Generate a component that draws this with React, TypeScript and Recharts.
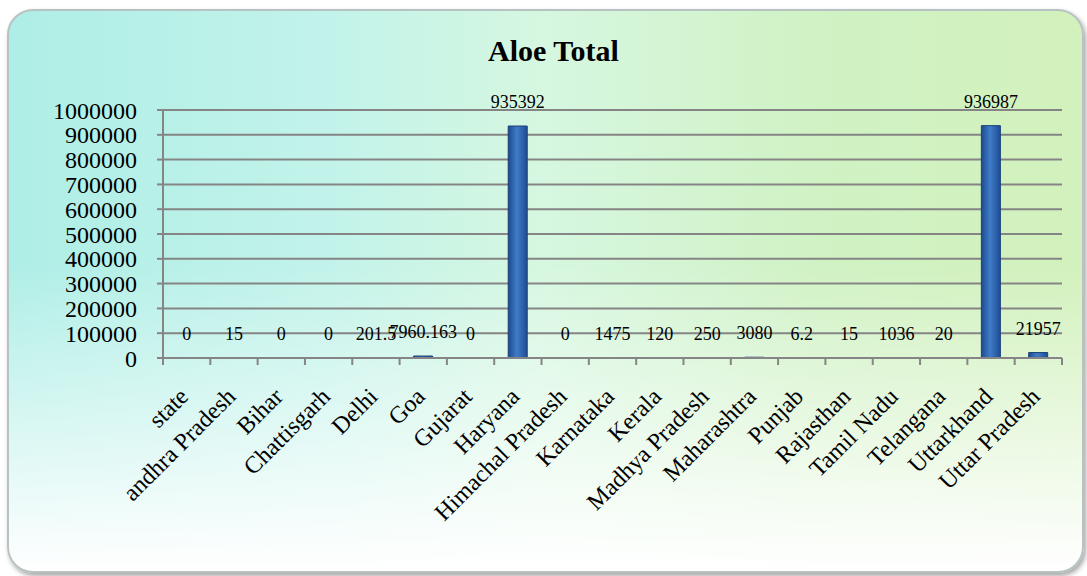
import React from 'react';
import { ComposedChart, Bar, Line, XAxis, YAxis, CartesianGrid, LabelList } from 'recharts';

const states = [
  'state', 'andhra Pradesh', 'Bihar', 'Chattisgarh', 'Delhi', 'Goa', 'Gujarat', 'Haryana',
  'Himachal Pradesh', 'Karnataka', 'Kerala', 'Madhya Pradesh', 'Maharashtra', 'Punjab',
  'Rajasthan', 'Tamil Nadu', 'Telangana', 'Uttarkhand', 'Uttar Pradesh',
];
const totals = [0, 15, 0, 0, 201.5, 7960.163, 0, 935392, 0, 1475, 120, 250, 3080, 6.2, 15, 1036, 20, 936987, 21957];
const yTicks = [0, 100000, 200000, 300000, 400000, 500000, 600000, 700000, 800000, 900000, 1000000];

const data = states.map((name, i) => ({ name, total: totals[i] }));

const FONT = '"Liberation Serif", "Times New Roman", serif';
const GRID = '#858585';

// rotated category label + tick marks on the category boundaries (like Excel)
const StateTick = (props: any) => {
  const { x, y, payload, width, visibleTicksCount, index } = props;
  const half = width / visibleTicksCount / 2;
  const axisY = y - 8;
  return (
    <g>
      {index === 0 && <line x1={x - half} y1={axisY} x2={x - half} y2={axisY + 7} stroke={GRID} strokeWidth={2} />}
      <line x1={x + half} y1={axisY} x2={x + half} y2={axisY + 7} stroke={GRID} strokeWidth={2} />
      <text
        transform={`translate(${x + 3},${axisY + 40}) rotate(-45)`}
        textAnchor="end"
        fontFamily={FONT}
        fontSize={24}
        fill="#000"
      >
        {payload.value}
      </text>
    </g>
  );
};

// value label above every bar, zeros included (bars of height 0 get no label from Bar)
const ValueLabel = (props: any) => {
  const { x, y, value } = props;
  return (
    <text x={x} y={y - 18} textAnchor="middle" fontFamily={FONT} fontSize={18} fill="#000">
      {String(value)}
    </text>
  );
};

const App: React.FC = () => {
  return (
    <div style={{ position: 'absolute', left: 0, top: 0, width: 1087, height: 576, background: '#fff', overflow: 'hidden' }}>
      <div
        style={{
          position: 'absolute', left: 7, top: 9, width: 1073, height: 560, borderRadius: 26,
          border: '2px solid #b7c2c2', boxShadow: '2px 3px 5px rgba(0,0,0,0.35)',
          background:
            'linear-gradient(to bottom, rgba(255,255,255,0) 45%, rgba(255,255,255,0.85) 92%, #fff 100%),' +
            'linear-gradient(to right, #aeeee6 0%, #c2f3ea 30%, #d6f7e0 50%, #d0f2c4 75%, #d2f1bc 100%)',
        }}
      />
      <div
        style={{
          position: 'absolute', left: 0, top: 34, width: 1107, textAlign: 'center',
          fontFamily: FONT, fontWeight: 'bold', fontSize: 30, color: '#000',
        }}
      >
        Aloe Total
      </div>
      <div style={{ position: 'absolute', left: 0, top: 0 }}>
        <ComposedChart width={1087} height={576} data={data} margin={{ top: 110, right: 25, bottom: 0, left: 0 }} barSize={19}>
          <defs>
            <linearGradient id="barFill" x1="0" y1="0" x2="1" y2="0">
              <stop offset="0%" stopColor="#1d4a8e" />
              <stop offset="45%" stopColor="#3f7cc8" />
              <stop offset="100%" stopColor="#1f4c92" />
            </linearGradient>
          </defs>
          <CartesianGrid vertical={false} stroke={GRID} strokeWidth={2} />
          <XAxis
            dataKey="name"
            interval={0}
            height={218}
            axisLine={{ stroke: GRID, strokeWidth: 2 }}
            tickLine={false}
            tickSize={6}
            tickMargin={2}
            tick={<StateTick />}
          />
          <YAxis
            width={163}
            domain={[0, 1000000]}
            ticks={yTicks}
            interval={0}
            axisLine={{ stroke: GRID, strokeWidth: 2 }}
            tickLine={{ stroke: GRID, strokeWidth: 2 }}
            tickSize={6}
            tickMargin={20}
            tick={{ fontFamily: FONT, fontSize: 24, fill: '#000' }}
          />
          <Bar dataKey="total" fill="url(#barFill)" stroke="#1a3f7a" strokeWidth={1} isAnimationActive={false} />
          {/* invisible carrier series for the data labels */}
          <Line dataKey="total" stroke="none" dot={false} activeDot={false} legendType="none" isAnimationActive={false}>
            <LabelList dataKey="total" content={<ValueLabel />} />
          </Line>
        </ComposedChart>
      </div>
    </div>
  );
};

export default App;
